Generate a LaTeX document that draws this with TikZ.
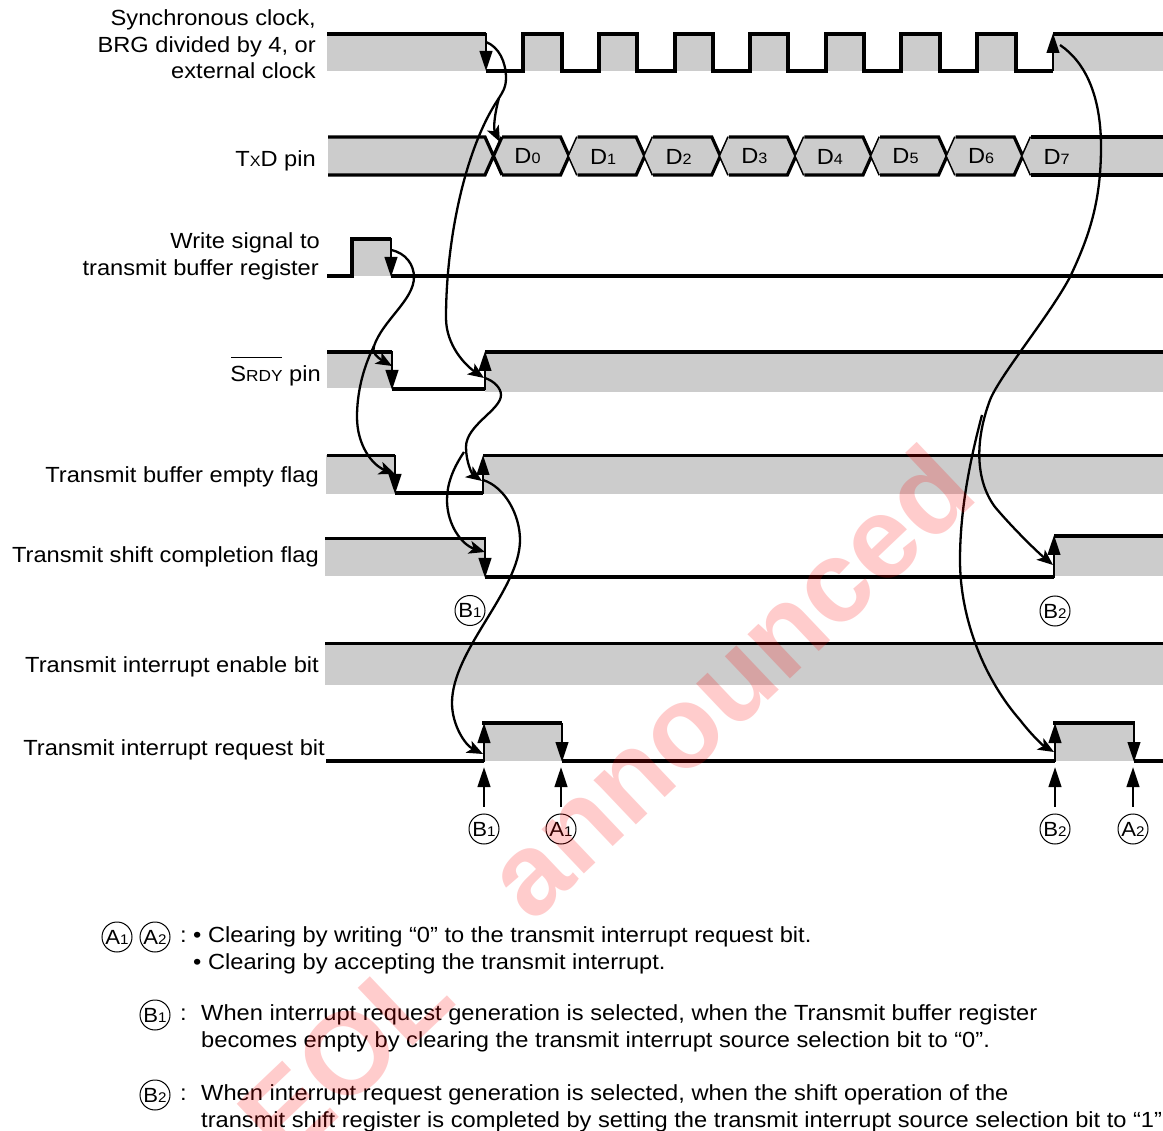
\documentclass[tikz,border=0pt]{standalone}
\usepackage{fontspec}
\setmainfont[FakeStretch=1.08]{Liberation Sans}
\newfontfamily\wmfont{Liberation Sans Bold}
\usetikzlibrary{arrows.meta}
\definecolor{bandgray}{HTML}{CCCCCC}
\newcommand{\sm}[1]{{\fontsize{15}{15}\selectfont #1}}
\newcommand{\smr}[1]{{\fontsize{14}{15}\selectfont #1}}
\newcommand{\bigt}{\fontsize{21.9}{27}\selectfont}
\tikzset{
  band/.style={fill=bandgray,draw=none},
  sig/.style={line width=3.2pt,line cap=butt,line join=miter,black},
  edgeline/.style={line width=2.6pt,-{Triangle[length=20pt,width=12.5pt]}},
  curve/.style={line width=2.3pt,black},
  curvehead/.style={line width=2.3pt,-{Stealth[length=16pt,width=13pt,inset=4pt]}},
  lab/.style={anchor=base east,inner sep=0pt,font=\bigt},
  legend/.style={anchor=base west,inner sep=0pt,font=\bigt},
  dat/.style={anchor=center,inner sep=0pt,font=\bigt},
  ring/.style={circle,draw,line width=1pt,inner sep=0pt,minimum size=30pt,fill=white,font=\fontsize{20.5}{24}\selectfont},
  ticklead/.style={line width=2.6pt,-{Triangle[length=20pt,width=12.5pt]}},
  wmark/.style={rotate=43.5,text=red,opacity=0.2,inner sep=0pt,font=\wmfont\fontsize{116}{116}\selectfont}
}
\begin{document}
\begin{tikzpicture}[x=1pt,y=-1pt]
\useasboundingbox (0,0) rectangle (1163,1131);
% ---------- clock
\fill[band] (327,33) rectangle (486,71);
\foreach \r/\f in {523/562,599/637,675/713,750/788,826/864,901/940,977/1016}{\fill[band] (\r,33) rectangle (\f,71);}
\fill[band] (1053,33) rectangle (1163,71);
\draw[sig] (327,34) -- (486,34) (486,71) -- (523,71) -- (523,34) -- (562,34) -- (562,71) -- (599,71) -- (599,34) -- (637,34) -- (637,71) -- (675,71) -- (675,34) -- (713,34) -- (713,71) -- (750,71) -- (750,34) -- (788,34) -- (788,71) -- (826,71) -- (826,34) -- (864,34) -- (864,71) -- (901,71) -- (901,34) -- (940,34) -- (940,71) -- (977,71) -- (977,34) -- (1016,34) -- (1016,71) -- (1053,71) (1053,34) -- (1163,34);
\coordinate (clkFallTop) at (486,33);
\coordinate (clkFallBot) at (486,71);
\coordinate (clkRiseBot) at (1053,71);
\coordinate (clkRiseTop) at (1053,33);
\draw[edgeline] (clkFallTop) -- (clkFallBot);
\draw[edgeline] (clkRiseBot) -- (clkRiseTop);
% ---------- TxD
\fill[band] (328,137) -- (485,137) -- (493.5,156) -- (485,175) -- (328,175) -- cycle;
\foreach \i in {0,...,6}{
  \pgfmathsetmacro{\ca}{493.5+75.6*\i}
  \pgfmathsetmacro{\cb}{493.5+75.6*(\i+1)}
  \fill[band] (\ca,156) -- (\ca+8.5,137) -- (\cb-8.5,137) -- (\cb,156) -- (\cb-8.5,175) -- (\ca+8.5,175) -- cycle;
  \draw[sig] (\ca+8.5,137) -- (\cb-8.5,137) -- (\cb+8.5,175) (\ca+8.5,175) -- (\cb-8.5,175) -- (\cb+8.5,137);
}
\fill[band] (1022.7,156) -- (1031.2,137) -- (1163,137) -- (1163,175) -- (1031.2,175) -- cycle;
\draw[sig] (328,137) -- (485,137) -- (502,175) (328,175) -- (485,175) -- (502,137);
\draw[sig] (1031.2,137) -- (1163,137) (1031.2,175) -- (1163,175);
\foreach \i/\d in {0/0,1/1,2/2,3/3,4/4,5/5,6/6,7/7}{
  \node[dat] (data\i) at ({493.5+75.6*\i+34},156.5) {D\sm{\d}};
}
% ---------- write
\fill[band] (352,238) rectangle (391,276);
\draw[sig] (327,276) -- (352,276) -- (352,239) -- (391,239) (391,276) -- (1163,276);
\coordinate (wrTop) at (391,238);
\coordinate (wrBot) at (391,277);
\draw[edgeline] (wrTop) -- (wrBot);
% ---------- SRDY
\fill[band] (327,351) rectangle (392,388);
\fill[band] (485,352) rectangle (1163,392);
\draw[sig] (327,352) -- (392,352) (392,389) -- (485,389) (485,352) -- (1163,352);
\coordinate (srFallTop) at (392,351);
\coordinate (srFallBot) at (392,390);
\coordinate (srRiseBot) at (485,390);
\coordinate (srRiseTop) at (485,351);
\draw[edgeline] (srFallTop) -- (srFallBot);
\draw[edgeline] (srRiseBot) -- (srRiseTop);
% ---------- buffer empty flag
\fill[band] (326,455) rectangle (395,494);
\fill[band] (483,455) rectangle (1163,494);
\draw[sig,line width=2.4pt] (327,455.5) -- (395,455.5);
\draw[sig] (395,493) -- (483,493);
\draw[sig,line width=2.4pt] (483,455.5) -- (1163,455.5);
\coordinate (teFallTop) at (395,455);
\coordinate (teFallBot) at (395,494);
\coordinate (teRiseBot) at (483,494);
\coordinate (teRiseTop) at (483,455);
\draw[edgeline] (teFallTop) -- (teFallBot);
\draw[edgeline] (teRiseBot) -- (teRiseTop);
% ---------- shift completion flag
\fill[band] (325,538) rectangle (485,576);
\fill[band] (1054,536) rectangle (1163,576);
\draw[sig] (325,538.5) -- (485,538.5) (485,577) -- (1054,577) (1054,536) -- (1163,536);
\coordinate (scFallTop) at (485,537);
\coordinate (scFallBot) at (485,578);
\coordinate (scRiseBot) at (1054,578);
\coordinate (scRiseTop) at (1054,535);
\draw[edgeline] (scFallTop) -- (scFallBot);
\draw[edgeline] (scRiseBot) -- (scRiseTop);
% ---------- enable bit
\fill[band] (325,643) rectangle (1163,685);
\draw[sig] (325,643.5) -- (1163,643.5);
% ---------- request bit
\fill[band] (484,723) rectangle (562,761);
\fill[band] (1055,723) rectangle (1134,761);
\draw[sig] (326,761) -- (484,761) (482,723) -- (562,723) (562,761) -- (1055,761) (1053,723) -- (1135,723) (1134,761) -- (1163,761);
\coordinate (rqRiseBot1) at (484,762);
\coordinate (rqRiseTop1) at (484,723);
\coordinate (rqFallTop1) at (562,723);
\coordinate (rqFallBot1) at (562,762);
\coordinate (rqRiseBot2) at (1055,762);
\coordinate (rqRiseTop2) at (1055,723);
\coordinate (rqFallTop2) at (1134,723);
\coordinate (rqFallBot2) at (1134,762);
\draw[edgeline] (rqRiseBot1) -- (rqRiseTop1);
\draw[edgeline] (rqFallTop1) -- (rqFallBot1);
\draw[edgeline] (rqRiseBot2) -- (rqRiseTop2);
\draw[edgeline] (rqFallTop2) -- (rqFallBot2);
% ---------- cause/effect curves
\coordinate (brA) at (499,98);
\coordinate (brC) at (374,346);
\coordinate (brE) at (464,452);
\coordinate (brG) at (982,415);
\draw[curvehead] (486,42) .. controls (499,47) and (506,62) .. (506,78) .. controls (506,88) and (502,93) .. (brA) .. controls (495,112) and (493,128) .. (500,142);
\draw[curvehead] (brA) .. controls (465,148) and (446,240) .. (446,318) .. controls (446,345) and (465,365) .. (484,378);
\draw[curve] (391,250) .. controls (406,253) and (414,265) .. (414,277) .. controls (414,300) and (383,320) .. (brC);
\draw[curvehead] (brC) .. controls (371,352) and (378,358) .. (392,366);
\draw[curvehead] (brC) .. controls (362,370) and (357,395) .. (357,417) .. controls (357,445) and (372,465) .. (395,474);
\draw[curvehead] (485,378) .. controls (494,381) and (501,388) .. (501,395) .. controls (501,410) and (466,425) .. (466,447) .. controls (466,462) and (472,474) .. (482,481);
\draw[curvehead] (brE) .. controls (452,470) and (447,485) .. (447,500) .. controls (447,525) and (462,545) .. (485,552);
\draw[curvehead] (483,480) .. controls (505,487) and (520,515) .. (520,540) .. controls (520,590) and (452,650) .. (452,703) .. controls (452,725) and (465,745) .. (483,754);
\draw[curvehead] (1060,45) .. controls (1085,62) and (1101,95) .. (1101,147) .. controls (1101,200) and (1090,235) .. (1070,277) .. controls (1050,315) and (1000,375) .. (990,400) .. controls (975,440) and (975,480) .. (995,507) .. controls (1010,525) and (1035,550) .. (1053,565);
\draw[curvehead] (brG) .. controls (970,460) and (960,510) .. (960,560) .. controls (960,620) and (985,680) .. (1020,720) .. controls (1030,733) and (1042,745) .. (1054,752);
% ---------- ring markers
\node[ring] (b1up) at (470,610.5) {B\smr{1}};
\node[ring] (b2up) at (1055,611) {B\smr{2}};
\node[ring] (b1lo) at (484,829) {B\smr{1}};
\node[ring] (a1lo) at (561,829) {A\smr{1}};
\node[ring] (b2lo) at (1055,829) {B\smr{2}};
\node[ring] (a2lo) at (1133,829) {A\smr{2}};
\coordinate (b1tip) at (484,767);
\coordinate (a1tip) at (561,767);
\coordinate (b2tip) at (1055,767);
\coordinate (a2tip) at (1133,767);
\draw[ticklead] (b1lo.north) ++(0,-7) coordinate (b1st) (b1st) -- (b1tip);
\draw[ticklead] (a1lo.north) ++(0,-7) coordinate (a1st) (a1st) -- (a1tip);
\draw[ticklead] (b2lo.north) ++(0,-7) coordinate (b2st) (b2st) -- (b2tip);
\draw[ticklead] (a2lo.north) ++(0,-7) coordinate (a2st) (a2st) -- (a2tip);
% ---------- left labels
\node[lab] (l1a) at (316,26) {Synchronous clock,};
\node[lab] (l1b) at (316,53) {BRG divided by 4, or};
\node[lab] (l1c) at (316,79) {external clock};
\node[lab] (l2) at (316,167) {T\sm{X}D pin};
\node[lab] (l3a) at (320,249) {Write signal to};
\node[lab] (l3b) at (319,276) {transmit buffer register};
\node[lab] (l4) at (321,382) {\rlap{\kern1pt\rule[24pt]{51pt}{1pt}}S{\fontsize{16}{16}\selectfont RDY} pin};
\node[lab] (l5) at (319,483) {Transmit buffer empty flag};
\node[lab] (l6) at (319,563) {Transmit shift completion flag};
\node[lab] (l7) at (319,672) {Transmit interrupt enable bit};
\node[lab] (l8) at (325,755) {Transmit interrupt request bit};
% ---------- legend
\node[ring] (ka1) at (117,937) {A\smr{1}};
\node[ring] (ka2) at (155,937) {A\smr{2}};
\node[ring] (kb1) at (155,1015) {B\smr{1}};
\node[ring] (kb2) at (155,1095) {B\smr{2}};
\node[legend] (c1) at (180,942) {:};
\node[legend] (c2) at (180,1020) {:};
\node[legend] (c3) at (180,1100) {:};
\node[legend] (t1) at (193,942) {• Clearing by writing “0” to the transmit interrupt request bit.};
\node[legend] (t2) at (193,969) {• Clearing by accepting the transmit interrupt.};
\node[legend] (t3) at (201,1020) {When interrupt request generation is selected, when the Transmit buffer register};
\node[legend] (t4) at (201,1047) {becomes empty by clearing the transmit interrupt source selection bit to “0”.};
\node[legend] (t5) at (201,1100) {When interrupt request generation is selected, when the shift operation of the};
\node[legend] (t6) at (201,1127) {transmit shift register is completed by setting the transmit interrupt source selection bit to “1”};
% ---------- watermark
\node[wmark] (wmB) at (728,681) {announced};
\node[wmark] (wmA) at (345,1056) {EOL};
\end{tikzpicture}
\end{document}
